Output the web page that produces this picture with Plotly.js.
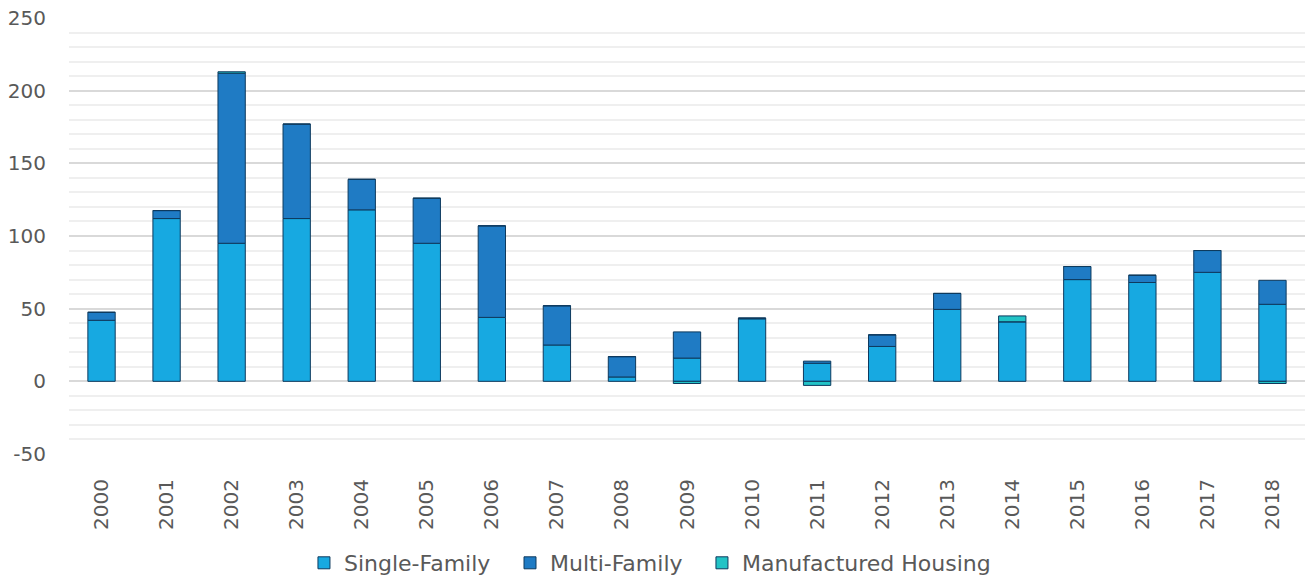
<!DOCTYPE html>
<html>
<head>
<meta charset="utf-8">
<script src="https://cdn.plot.ly/plotly-3.0.1.min.js"></script>
<style>html,body{margin:0;padding:0;background:#fff;}#chart{width:1307px;height:579px;}</style>
</head>
<body>
<div id="chart"></div>
<script>
const years = ["2000","2001","2002","2003","2004","2005","2006","2007","2008","2009","2010","2011","2012","2013","2014","2015","2016","2017","2018"];
const singleFamily = [42, 112, 95, 112, 118, 95, 44, 25, 3, 16, 43, 12.4, 24, 49.5, 41, 70, 68, 75, 53];
const multiFamily = [5.5, 5.5, 117, 65, 21, 31, 63, 27, 14, 18, 0.5, 1.5, 8, 11, 0, 9, 5, 15, 16.5];
const manufactured = [0, 0, 1, 0, 0, 0, 0, 0, 0, -1.5, 0, -2.8, 0, 0, 4, 0, 0, 0, -1.5];
const seriesNames = ["Single-Family", "Multi-Family", "Manufactured Housing"];
const yTickValues = [-50, 0, 50, 100, 150, 200, 250];
const yTickLabels = ["-50", "0", "50", "100", "150", "200", "250"];

const outline = {color: "#0e3a5e", width: 1};
const traces = [
  {x: years, y: singleFamily, name: seriesNames[0], type: "bar", legend: "legend", marker: {color: "#17a9e1", line: outline}},
  {x: years, y: multiFamily, name: seriesNames[1], type: "bar", legend: "legend2", marker: {color: "#1f7bc4", line: outline}},
  {x: years, y: manufactured, name: seriesNames[2], type: "bar", legend: "legend3", marker: {color: "#22c3c6", line: outline}}
];

const fam = "'DejaVu Sans', sans-serif";
function legendAt(x) {
  return {orientation: "h", x: x, xanchor: "left", xref: "paper",
          y: 1 - 563 / 579, yref: "container", yanchor: "middle",
          font: {family: fam, size: 22, color: "#595959"}, itemwidth: 30, bgcolor: "rgba(0,0,0,0)"};
}
const layout = {
  width: 1307, height: 579,
  margin: {l: 69, r: 2, t: 18, b: 125},
  paper_bgcolor: "#ffffff", plot_bgcolor: "#ffffff",
  barmode: "relative",
  bargap: 0.58,
  font: {family: fam, color: "#595959", size: 20},
  showlegend: true,
  legend: legendAt(0.1901),
  legend2: legendAt(0.3568),
  legend3: legendAt(0.5121),
  xaxis: {type: "category", tickangle: -90, showgrid: false, zeroline: false, showline: false, ticks: "",
          ticklabelstandoff: 20, tickfont: {family: fam, size: 20, color: "#595959"}, automargin: false},
  yaxis: {range: [-50, 250], tickmode: "array", tickvals: yTickValues, ticktext: yTickLabels,
          showgrid: true, gridcolor: "#d9d9d9", gridwidth: 2,
          zeroline: true, zerolinecolor: "#d9d9d9", zerolinewidth: 2, showline: false, ticks: "",
          ticklabelstandoff: 22, tickfont: {family: fam, size: 20, color: "#595959"}, automargin: false,
          minor: {dtick: 10, showgrid: true, gridcolor: "#efefef", gridwidth: 2}}
};
Plotly.newPlot("chart", traces, layout, {displayModeBar: false, staticPlot: true});
</script>
</body>
</html>
